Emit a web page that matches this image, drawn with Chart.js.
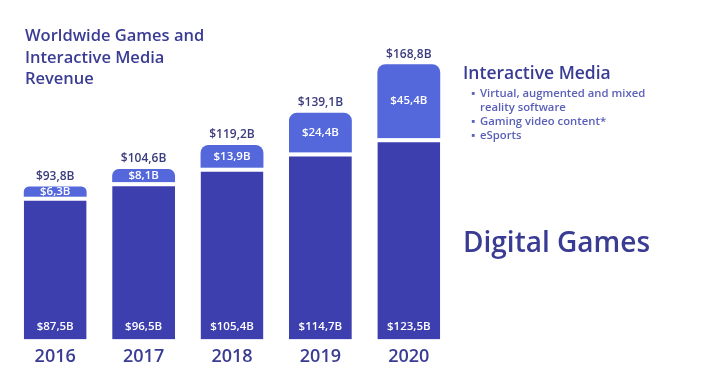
<!DOCTYPE html>
<html>
<head>
<meta charset="utf-8">
<script src="https://cdn.jsdelivr.net/npm/chart.js@4"></script>
<style>
  html, body { margin: 0; padding: 0; background: #fff; }
  #wrap { position: relative; width: 708px; height: 384px; font-family: "Open Sans", "Noto Sans", sans-serif; color: #3a3c94; }
  #title { position: absolute; left: 25px; top: 24px; font-size: 16.5px; line-height: 21.5px; font-weight: 600; }
  #media { position: absolute; left: 463px; top: 60px; font-size: 17.5px; font-weight: 600; }
  #bullets { position: absolute; left: 471px; top: 86px; font-size: 11.3px; line-height: 14px; font-weight: 600; color: #5a5fb8; margin: 0; padding: 0; list-style: none; }
  #bullets li { position: relative; padding-left: 9px; }
  #bullets li span { position: absolute; left: 0; top: 0; }
  #games { position: absolute; left: 463px; top: 222px; font-size: 28px; font-weight: 600; }
</style>
</head>
<body>
<div id="wrap">
  <canvas id="chart" width="708" height="384"></canvas>
  <div id="title">Worldwide Games and<br>Interactive Media<br>Revenue</div>
  <div id="media">Interactive Media</div>
  <ul id="bullets">
    <li><span>▪</span>Virtual, augmented and mixed<br>reality software</li>
    <li><span>▪</span>Gaming video content*</li>
    <li><span>▪</span>eSports</li>
  </ul>
  <div id="games">Digital Games</div>
</div>
<script>
// values in billions of dollars
const years = ["2016", "2017", "2018", "2019", "2020"];
const digitalGames = [87.5, 96.5, 105.4, 114.7, 123.5];
const interactiveMedia = [6.3, 8.1, 13.9, 24.4, 45.4];
const totals = [93.8, 104.6, 119.2, 139.1, 168.8];

function money(v) {
  return '$' + v.toFixed(1).replace('.', ',') + 'B';
}

const labelPlugin = {
  id: 'barLabels',
  afterDatasetsDraw(chart) {
    const ctx = chart.ctx;
    const dark = chart.getDatasetMeta(0).data;
    const light = chart.getDatasetMeta(1).data;
    ctx.save();
    ctx.textAlign = 'center';
    ctx.textBaseline = 'middle';
    ctx.font = '600 11.5px "Open Sans", "Noto Sans", sans-serif';
    ctx.fillStyle = '#ffffff';
    dark.forEach((bar, i) => {
      ctx.fillText(money(digitalGames[i]), bar.x, bar.base - 13);
    });
    light.forEach((bar, i) => {
      ctx.fillText(money(interactiveMedia[i]), bar.x, (bar.y + bar.base) / 2);
    });
    ctx.fillStyle = '#3a3c7e';
    ctx.font = '600 12px "Open Sans", "Noto Sans", sans-serif';
    light.forEach((bar, i) => {
      ctx.fillText(money(totals[i]), bar.x, bar.y - 10);
    });
    ctx.restore();
  }
};

new Chart(document.getElementById('chart').getContext('2d'), {
  type: 'bar',
  data: {
    labels: years,
    datasets: [
      {
        label: 'Digital Games',
        data: digitalGames,
        backgroundColor: '#3d3fae',
        borderColor: '#ffffff',
        borderWidth: { top: 4, left: 0, right: 0, bottom: 0 },
        borderSkipped: 'start',
        barPercentage: 0.9,
        categoryPercentage: 0.79
      },
      {
        label: 'Interactive Media',
        data: interactiveMedia,
        backgroundColor: '#5468dc',
        borderRadius: { topLeft: 8, topRight: 8, bottomLeft: 0, bottomRight: 0 },
        borderSkipped: false,
        barPercentage: 0.9,
        categoryPercentage: 0.79
      }
    ]
  },
  plugins: [labelPlugin],
  options: {
    responsive: false,
    animation: false,
    layout: { padding: { left: 11, right: 255, top: 20, bottom: 9 } },
    scales: {
      x: {
        stacked: true,
        grid: { display: false, drawTicks: false },
        border: { display: false },
        ticks: {
          color: '#3a3c94',
          padding: 7,
          font: { family: '"Open Sans", "Noto Sans", sans-serif', size: 18, weight: '600' }
        }
      },
      y: {
        stacked: true,
        display: false,
        min: 0,
        max: 196
      }
    },
    plugins: {
      legend: { display: false },
      tooltip: { enabled: false }
    }
  }
});
</script>
</body>
</html>
